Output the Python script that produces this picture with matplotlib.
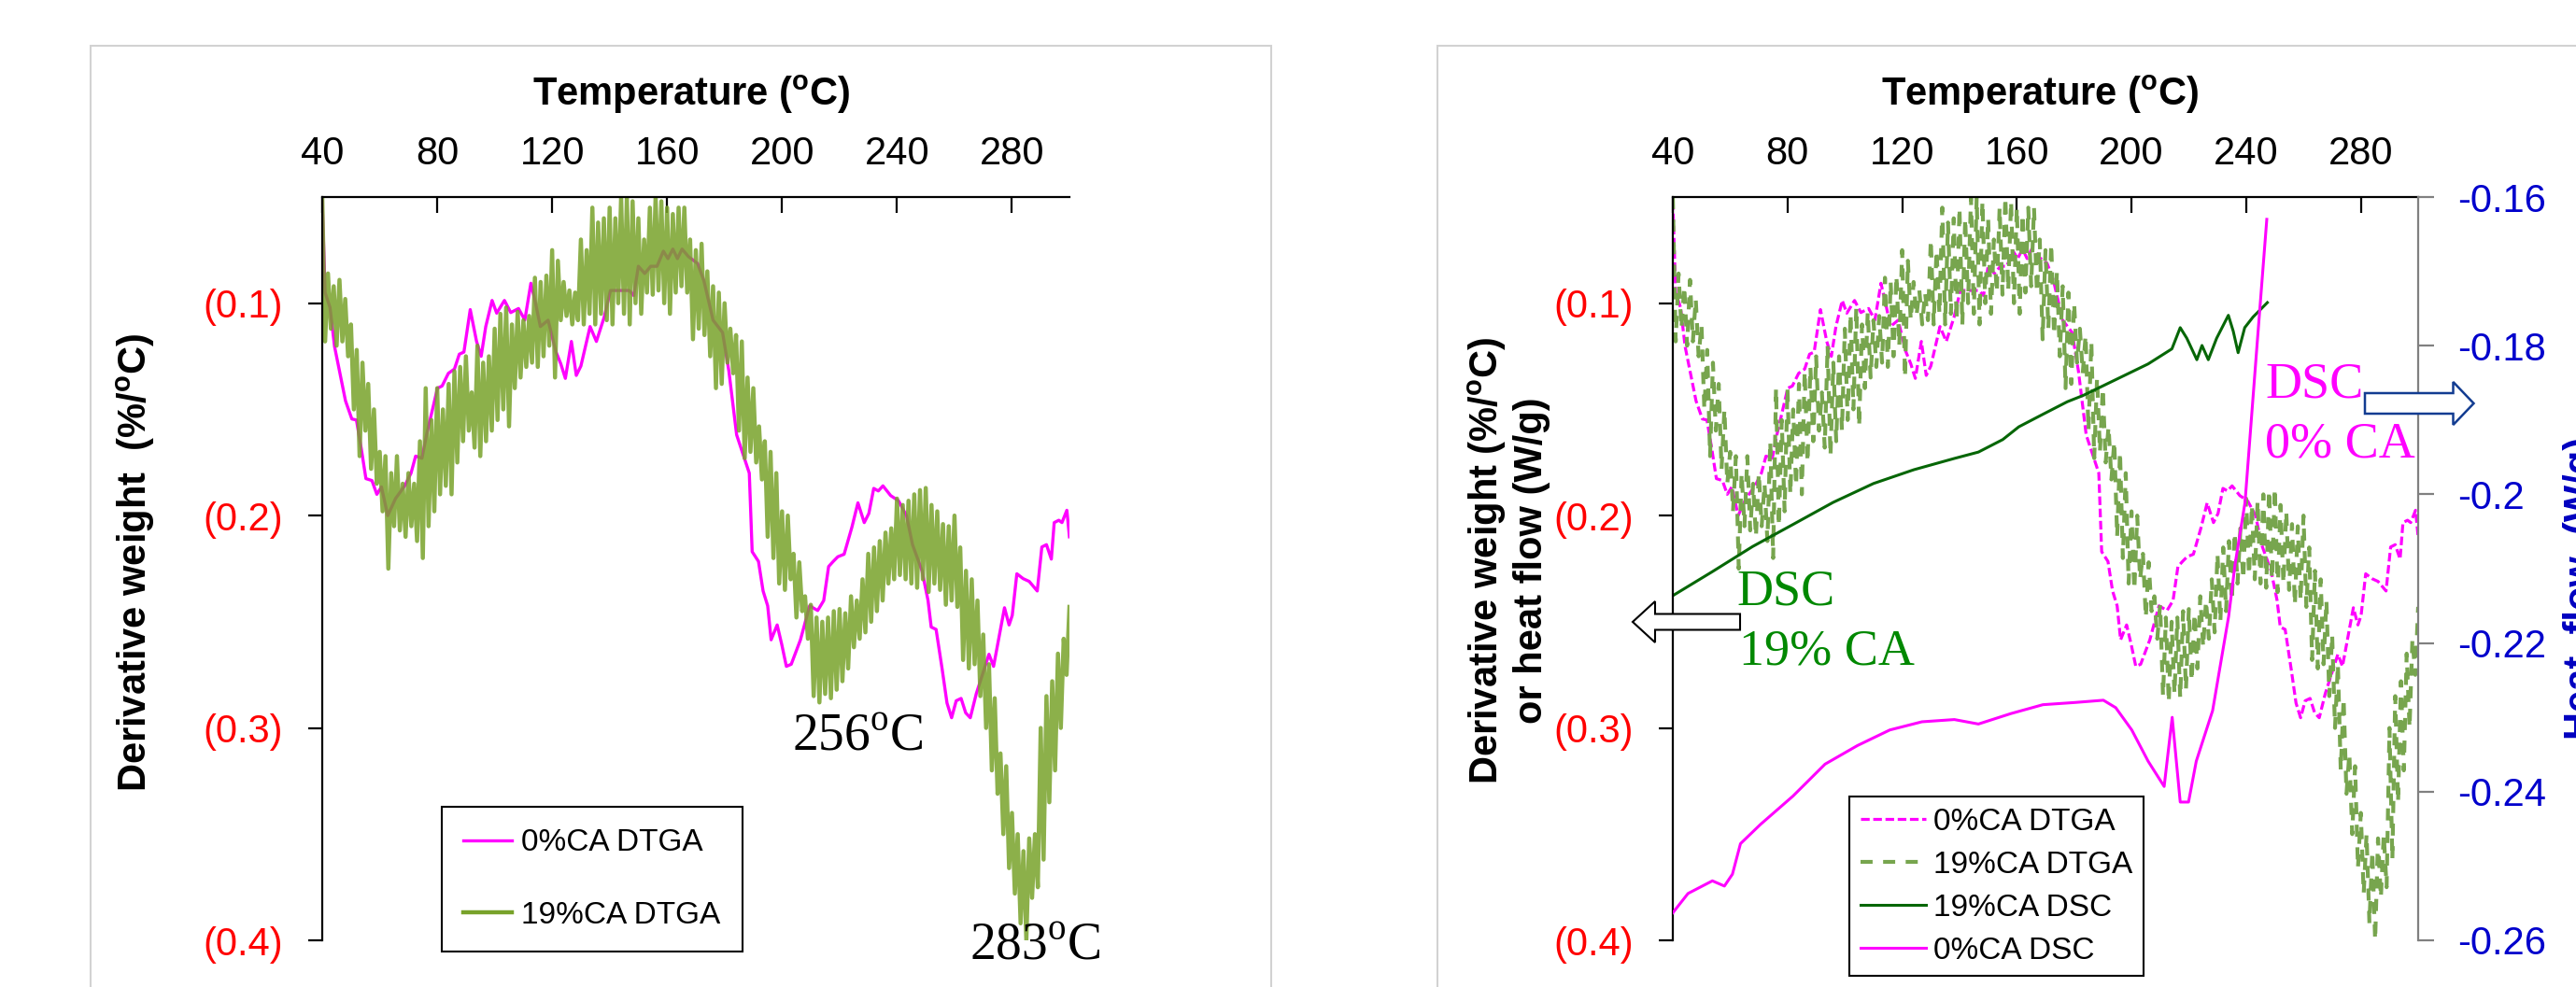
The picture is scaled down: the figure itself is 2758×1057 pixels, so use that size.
import numpy as np
import matplotlib

matplotlib.use("Agg")
import matplotlib.pyplot as plt  # noqa: E402
from matplotlib.patches import FancyArrow, Rectangle  # noqa: E402

plt.rcParams["font.family"] = ["Liberation Sans", "DejaVu Sans"]
plt.rcParams["mathtext.fontset"] = "custom"
plt.rcParams["mathtext.rm"] = "Liberation Sans"
plt.rcParams["mathtext.bf"] = "Liberation Sans:bold"
plt.rcParams["mathtext.sf"] = "Liberation Serif"

# ---- data -------------------------------------------------------------
# 0%CA DTGA (smooth curve)
temp_0ca = [40, 41, 42.7, 44.3, 46, 48.1, 50.3, 51.9, 53.6, 55.2, 57.3, 59, 60.6,
            62.8, 65.5, 68.7, 70.9, 72.5, 74.7, 76.3, 80.1, 81.7, 83.9, 86, 87.7,
            89.3, 91.5, 93.7, 95.3, 96.9, 99.1, 100.7, 103.4, 105.6, 108.3, 110.5,
            112.6, 114.2, 115.9, 118.6, 121.3, 123, 124.6, 126.7, 128.4, 130, 133.2,
            135.4, 138.1, 140.3, 144.6, 146.8, 148.4, 150, 152.2, 154.3, 156.5,
            158.7, 160.3, 162, 163.6, 165.2, 167.4, 170.6, 172.8, 176, 179.3, 181.5,
            184.2, 186.9, 188.6, 189.6, 191.8, 193.4, 195, 196.2, 198.3, 199.9,
            201.5, 203.2, 206.4, 209.6, 212.4, 214.5, 216.2, 217.8, 219.4, 221.6,
            224.3, 226.4, 228.6, 230.2, 231.9, 233.5, 235.1, 237.8, 240.5, 243.3,
            245.4, 248.7, 250.8, 251.9, 253.6, 255.7, 257.4, 259, 260.6, 262.3,
            263.9, 265.5, 267.6, 269.8, 272, 273.6, 275.8, 277.4, 279, 280.1, 281.7,
            283.9, 286, 288.8, 290.4, 292, 293.7, 294.7, 296.3, 297.4, 299.1, 300]
dtga_0ca = [-0.052, -0.095, -0.102, -0.1205, -0.132, -0.146, -0.1545, -0.155, -0.1686,
            -0.1826, -0.1835, -0.190, -0.1865, -0.200, -0.192, -0.186, -0.180, -0.172,
            -0.173, -0.162, -0.140, -0.139, -0.133, -0.131, -0.124, -0.123, -0.103,
            -0.118, -0.125, -0.111, -0.0987, -0.1047, -0.0987, -0.1044, -0.1025,
            -0.1079, -0.0906, -0.0998, -0.111, -0.108, -0.1228, -0.1285, -0.1354,
            -0.118, -0.134, -0.1296, -0.111, -0.118, -0.1066, -0.094, -0.094, -0.094,
            -0.0964, -0.0826, -0.086, -0.0826, -0.0826, -0.0755, -0.079, -0.0745,
            -0.079, -0.0745, -0.078, -0.0813, -0.0894, -0.108, -0.1138, -0.132,
            -0.162, -0.173, -0.180, -0.217, -0.2216, -0.2355, -0.2425, -0.2585,
            -0.2515, -0.2607, -0.271, -0.270, -0.2585, -0.2425, -0.2447, -0.240,
            -0.224, -0.2216, -0.2194, -0.2182, -0.2055, -0.194, -0.2033, -0.199,
            -0.1872, -0.1884, -0.186, -0.1906, -0.193, -0.200, -0.2137, -0.226,
            -0.240, -0.2525, -0.2536, -0.2722, -0.2883, -0.2952, -0.2872, -0.2861,
            -0.2929, -0.2952, -0.2838, -0.2745, -0.2653, -0.271, -0.255, -0.2434,
            -0.2515, -0.247, -0.2274, -0.2297, -0.231, -0.2355, -0.2148, -0.2137,
            -0.2205, -0.2033, -0.2022, -0.2033, -0.1975, -0.210]

# 19%CA DTGA (noisy, sampled every 1 degC from 40 to 300)
temp_19ca = np.arange(40, 301)
dtga_19ca = [
    -0.050, -0.118, -0.086, -0.112, -0.092, -0.120, -0.089, -0.118, -0.098, -0.125,
    -0.110, -0.150, -0.122, -0.172, -0.128, -0.160, -0.138, -0.178, -0.150, -0.185,
    -0.170, -0.198, -0.172, -0.225, -0.180, -0.205, -0.172, -0.207, -0.185, -0.210,
    -0.180, -0.205, -0.185, -0.212, -0.165, -0.220, -0.140, -0.205, -0.155, -0.198,
    -0.140, -0.190, -0.150, -0.186, -0.138, -0.190, -0.132, -0.175, -0.130, -0.165,
    -0.125, -0.160, -0.142, -0.168, -0.120, -0.172, -0.128, -0.165, -0.125, -0.160,
    -0.112, -0.155, -0.105, -0.150, -0.102, -0.158, -0.110, -0.140, -0.104, -0.135,
    -0.108, -0.130, -0.106, -0.128, -0.088, -0.130, -0.090, -0.125, -0.087, -0.120,
    -0.075, -0.135, -0.080, -0.108, -0.090, -0.106, -0.094, -0.110, -0.095, -0.108,
    -0.070, -0.110, -0.075, -0.105, -0.055, -0.110, -0.062, -0.105, -0.060, -0.108,
    -0.055, -0.110, -0.060, -0.100, -0.050, -0.105, -0.050, -0.110, -0.052, -0.100,
    -0.060, -0.105, -0.070, -0.095, -0.055, -0.096, -0.050, -0.094, -0.052, -0.100,
    -0.055, -0.105, -0.058, -0.095, -0.055, -0.092, -0.055, -0.095, -0.070, -0.117,
    -0.075, -0.112, -0.072, -0.115, -0.085, -0.125, -0.092, -0.140, -0.095, -0.138,
    -0.100, -0.128, -0.112, -0.133, -0.115, -0.160, -0.118, -0.173, -0.135, -0.170,
    -0.140, -0.175, -0.158, -0.183, -0.165, -0.210, -0.170, -0.220, -0.180, -0.232,
    -0.198, -0.235, -0.200, -0.230, -0.218, -0.248, -0.222, -0.245, -0.238, -0.258,
    -0.242, -0.285, -0.248, -0.288, -0.250, -0.284, -0.248, -0.286, -0.245, -0.282,
    -0.244, -0.278, -0.246, -0.272, -0.238, -0.262, -0.240, -0.258, -0.230, -0.255,
    -0.218, -0.250, -0.215, -0.245, -0.212, -0.240, -0.208, -0.232, -0.206, -0.230,
    -0.192, -0.228, -0.195, -0.230, -0.193, -0.232, -0.190, -0.234, -0.188, -0.230,
    -0.187, -0.236, -0.195, -0.232, -0.198, -0.235, -0.204, -0.242, -0.205, -0.240,
    -0.200, -0.243, -0.215, -0.268, -0.226, -0.272, -0.230, -0.270, -0.240, -0.285,
    -0.256, -0.300, -0.270, -0.320, -0.286, -0.331, -0.312, -0.350, -0.318, -0.366,
    -0.340, -0.378, -0.350, -0.392, -0.358, -0.400, -0.352, -0.380, -0.350, -0.375,
    -0.300, -0.362, -0.285, -0.335, -0.278, -0.320, -0.265, -0.300, -0.258, -0.275,
    -0.243,
]

# 19%CA DSC (read on the left axis)
temp_dsc_19 = [40, 53.8, 67.8, 81.9, 95.9, 110, 124.1, 138.2, 146.6, 155.1, 160.7,
               169.1, 177.6, 183.2, 194.5, 205.8, 214.1, 217, 219.3, 222.8, 224.6,
               226.8, 229.7, 233.8, 235.5, 237.2, 239.5, 242.4, 247.4]
dsc_19ca = [-0.2377, -0.2264, -0.2146, -0.2042, -0.1938, -0.1849, -0.1784, -0.1731,
            -0.1701, -0.1642, -0.1582, -0.1523, -0.1464, -0.1434, -0.136, -0.1286,
            -0.1215, -0.1115, -0.1165, -0.1266, -0.1199, -0.1266, -0.1165, -0.1057,
            -0.1132, -0.1233, -0.1115, -0.1065, -0.0997]

# 0%CA DSC (read on the right axis, W/g)
temp_dsc_0 = [40, 45.3, 53.8, 58, 60.8, 63.6, 70.6, 81.9, 93.1, 104.4, 115.7, 126.9,
              138.2, 146.6, 157.9, 169.1, 180.4, 190.2, 194.5, 200.1, 205.8, 211.4,
              214.2, 217, 219.9, 222.6, 228.3, 233.9, 236.1, 239.6, 243.8, 247.2]
dsc_0ca = [-0.2563, -0.2537, -0.2520, -0.2527, -0.2511, -0.2470, -0.2444, -0.2406,
           -0.2363, -0.2338, -0.2317, -0.2306, -0.2303, -0.2309, -0.2295, -0.2283,
           -0.2280, -0.2277, -0.2287, -0.2317, -0.2359, -0.2393, -0.2300, -0.2414,
           -0.2414, -0.2359, -0.2291, -0.2164, -0.2095, -0.2011, -0.1799, -0.1630]

x_ticks = [40, 80, 120, 160, 200, 240, 280]
dtg_ticks = [-0.1, -0.2, -0.3, -0.4]
dtg_labels = ["(0.1)", "(0.2)", "(0.3)", "(0.4)"]
hf_ticks = [-0.16, -0.18, -0.20, -0.22, -0.24, -0.26]
hf_labels = ["-0.16", "-0.18", "-0.2", "-0.22", "-0.24", "-0.26"]

MAGENTA = "#ff00ff"
OLIVE = "#78a22a"
LIGHT_GREEN = "#77a54e"
DARK_GREEN = "#066606"
RED = "#ff0000"
BLUE = "#0000cc"

W, H = 2758, 1057
fig = plt.figure(figsize=(W / 100, H / 100), dpi=100)
inch = fig.dpi_scale_trans


def px(x, y):
    """pixel position (from top-left) -> inches (from bottom-left)"""
    return x / 100, (H - y) / 100


def style_axis(ax, xlabel_x):
    ax.set_xlim(40, 300)
    ax.set_ylim(-0.4, -0.05)
    ax.set_facecolor("none")
    ax.xaxis.tick_top()
    ax.xaxis.set_label_position("top")
    ax.set_xticks(x_ticks)
    ax.tick_params(axis="x", direction="in", length=12, width=1.6, pad=19,
                   labelsize=30, colors="black")
    ax.set_yticks(dtg_ticks, dtg_labels)
    ax.tick_params(axis="y", direction="out", length=11, width=1.6, pad=19,
                   labelsize=30, labelcolor=RED)
    for side in ("bottom", "right"):
        ax.spines[side].set_visible(False)
    for side in ("top", "left"):
        ax.spines[side].set_linewidth(1.6)
    ax.set_xlabel(r"Temperature ($^{\mathbf{o}}$C)", fontsize=30,
                  fontweight="bold", va="center")
    ax.xaxis.set_label_coords(*px(xlabel_x, 101), transform=inch)


# ---- background frames ------------------------------------------------
for x0, width in ((97, 1264), (1539, 1400)):
    fig.add_artist(Rectangle((x0 / 100, -1), width / 100, (H - 49) / 100 + 1,
                             fill=False, ec="#d2d2d2", lw=1.5, transform=inch,
                             zorder=-5))

# ---- left panel -------------------------------------------------------
ax1 = fig.add_axes([345 / W, 50 / H, 800 / W, 796 / H])
l_a, = ax1.plot(temp_0ca, dtga_0ca, color=MAGENTA, lw=2.4, label="0%CA DTGA")
l_b, = ax1.plot(temp_19ca, dtga_19ca, color=OLIVE, lw=3.2, alpha=0.85,
                label="19%CA DTGA")
style_axis(ax1, 740)
ax1.set_ylabel(r"Derivative weight  (%/$^{\mathbf{o}}$C)", fontsize=30,
               fontweight="bold", va="center")
ax1.yaxis.set_label_coords(*px(145, 602), transform=inch)
leg1 = ax1.legend(handles=[l_a, l_b], loc="upper left",
                  bbox_to_anchor=px(473, 864), bbox_transform=inch,
                  borderaxespad=0, fancybox=False, framealpha=1,
                  edgecolor="black", fontsize=24, handlelength=1.55,
                  handletextpad=0.3, labelspacing=1.4, borderpad=0.7)
leg1.get_frame().set_linewidth(1.5)
for l in leg1.get_lines():
    l.set_alpha(1)

serif = {"family": "Liberation Serif", "fontsize": 40}
fig.text(*px(848, 804), r"256$^{\mathsf{o}}$C", transform=inch, ha="left",
         va="baseline", color="black", **serif)
fig.text(*px(1038, 1028), r"283$^{\mathsf{o}}$C", transform=inch, ha="left",
         va="baseline", color="black", **serif)

# ---- right panel ------------------------------------------------------
ax3 = fig.add_axes([1791 / W, 50 / H, 798 / W, 796 / H])
r_a, = ax3.plot(temp_0ca, dtga_0ca, color=MAGENTA, lw=2.3, dashes=(2.9, 1.2),
                label="0%CA DTGA")
r_b, = ax3.plot(temp_19ca, dtga_19ca, color=LIGHT_GREEN, lw=3.0,
                dashes=(3.1, 2.7), label="19%CA DTGA")
r_c, = ax3.plot(temp_dsc_19, dsc_19ca, color=DARK_GREEN, lw=2.2,
                label="19%CA DSC")
style_axis(ax3, 2184)
ax3.set_ylabel("Derivative weight (%/$^{\\mathbf{o}}$C)\nor heat flow (W/g)",
               fontsize=30, fontweight="bold", va="center", linespacing=1.15)
ax3.yaxis.set_label_coords(*px(1615, 600), transform=inch)

ax4 = ax3.twinx()
r_d, = ax4.plot(temp_dsc_0, dsc_0ca, color=MAGENTA, lw=2.2, label="0%CA DSC")
ax4.set_ylim(-0.26, -0.16)
ax4.set_yticks(hf_ticks, hf_labels)
ax4.tick_params(axis="y", direction="out", length=12, width=1.6, pad=18,
                labelsize=30, color="#808080", labelcolor=BLUE)
for side in ("top", "left", "bottom"):
    ax4.spines[side].set_visible(False)
ax4.spines["right"].set_color("#808080")
ax4.spines["right"].set_linewidth(1.6)
ax4.set_ylabel("Heat  flow  (W/g)", fontsize=30, fontweight="bold",
               color="#0000c0", va="center")
ax4.yaxis.set_label_coords(*px(2764, 630), transform=inch)

leg2 = ax4.legend(handles=[r_a, r_b, r_c, r_d], loc="upper left",
                  bbox_to_anchor=px(1980, 853), bbox_transform=inch,
                  borderaxespad=0, fancybox=False, framealpha=1,
                  edgecolor="black", fontsize=24, handlelength=2.1,
                  handletextpad=0.25, labelspacing=0.45, borderpad=0.35)
leg2.get_frame().set_linewidth(1.5)

serif2 = {"family": "Liberation Serif", "fontsize": 39}
fig.text(*px(1859, 647), "DSC", transform=inch, color="#008800", **serif2)
fig.text(*px(1862, 711), "19% CA", transform=inch, color="#008800", **serif2)
fig.text(*px(2425, 425), "DSC", transform=inch, color=MAGENTA, **serif2)
fig.text(*px(2425, 489), "0% CA", transform=inch, color=MAGENTA, **serif2)

# hollow block arrows
fig.add_artist(FancyArrow(*px(1863, 666), -1.15, 0, width=0.17, head_width=0.44,
                          head_length=0.24, length_includes_head=True,
                          fc="white", ec="black", lw=1.5, transform=inch,
                          zorder=10))
fig.add_artist(FancyArrow(*px(2532, 432), 1.165, 0, width=0.22, head_width=0.46,
                          head_length=0.22, length_includes_head=True,
                          fc="white", ec="#123c91", lw=1.8, transform=inch,
                          zorder=10))

# clipped text line from the page above the figure
for x0 in (2222, 2672):
    fig.text(*px(x0, -12), "p", transform=inch, ha="left", va="baseline",
             family="Liberation Serif", fontweight="bold", fontsize=40)

fig.savefig("out.png", dpi=100)
plt.close(fig)
